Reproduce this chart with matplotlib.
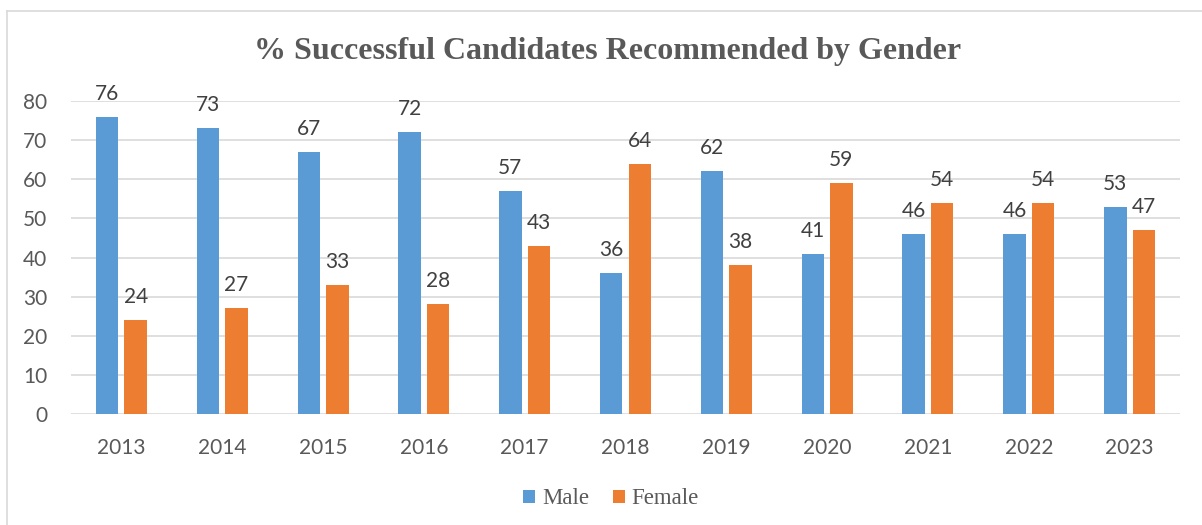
import matplotlib
matplotlib.use("Agg")
import matplotlib.pyplot as plt
from matplotlib.lines import Line2D
import numpy as np

years = ["2013", "2014", "2015", "2016", "2017", "2018", "2019", "2020", "2021", "2022", "2023"]
male = [76, 73, 67, 72, 57, 36, 62, 41, 46, 46, 53]
female = [24, 27, 33, 28, 43, 64, 38, 59, 54, 54, 47]
series_names = ["Male", "Female"]
title = "% Successful Candidates Recommended by Gender"

BLUE = "#5B9BD5"
ORANGE = "#ED7D31"
GRID = "#D9D9D9"
TICK = "#595959"
LABEL = "#404040"

W, H = 1202, 525
fig = plt.figure(figsize=(W / 100, H / 100), dpi=100)

# plot area in pixel coordinates
left_px, right_px, top_px, bottom_px = 71, 1180, 101, 414
ax = fig.add_axes([left_px / W, 1 - bottom_px / H,
                   (right_px - left_px) / W, (bottom_px - top_px) / H])

x = np.arange(len(years))
bw = 0.223
gap = 0.06
off = (bw + gap) / 2
b1 = ax.bar(x - off, male, bw, color=BLUE, label=series_names[0], zorder=3)
b2 = ax.bar(x + off, female, bw, color=ORANGE, label=series_names[1], zorder=3)

for bars, vals in ((b1, male), (b2, female)):
    for rect, v in zip(bars, vals):
        ax.annotate(str(v), (rect.get_x() + rect.get_width() / 2, v),
                    xytext=(0, 17), textcoords="offset pixels",
                    ha="center", va="baseline", fontsize=15,
                    family="Lato", color=LABEL)

ax.set_xlim(-0.5, len(years) - 0.5)
ax.set_ylim(0, 80)
ax.set_yticks(range(0, 81, 10))
ax.set_xticks(x)
ax.set_xticklabels(years)
ax.grid(axis="y", color=GRID, linewidth=1.2, zorder=0)
ax.set_axisbelow(True)
for s in ax.spines.values():
    s.set_visible(False)
ax.tick_params(axis="both", length=0, labelsize=15, labelcolor=TICK)
ax.tick_params(axis="y", pad=17)
ax.tick_params(axis="x", pad=17)
for lbl in ax.get_xticklabels() + ax.get_yticklabels():
    lbl.set_family("Lato")

fig.text(608 / W, 1 - 51 / H, title, ha="center", va="center",
         family="Liberation Serif", fontweight="bold", fontsize=23, color=TICK)

leg = fig.legend(handles=[b1, b2], labels=series_names, loc="center",
                 bbox_to_anchor=(611 / W, 1 - 499 / H), ncol=2, frameon=False,
                 prop={"family": "Liberation Serif", "size": 16.5},
                 handlelength=0.52, handleheight=0.52, handletextpad=0.3,
                 columnspacing=1.05, borderpad=0.2)
for t in leg.get_texts():
    t.set_color(TICK)

# chart frame
fig.add_artist(Line2D([7 / W, 7 / W], [0, 1 - 11 / H], transform=fig.transFigure,
                      color=GRID, linewidth=1.2))
fig.add_artist(Line2D([7 / W, 1], [1 - 11 / H, 1 - 11 / H], transform=fig.transFigure,
                      color=GRID, linewidth=1.2))

fig.savefig("out.png", dpi=100, facecolor="white")
